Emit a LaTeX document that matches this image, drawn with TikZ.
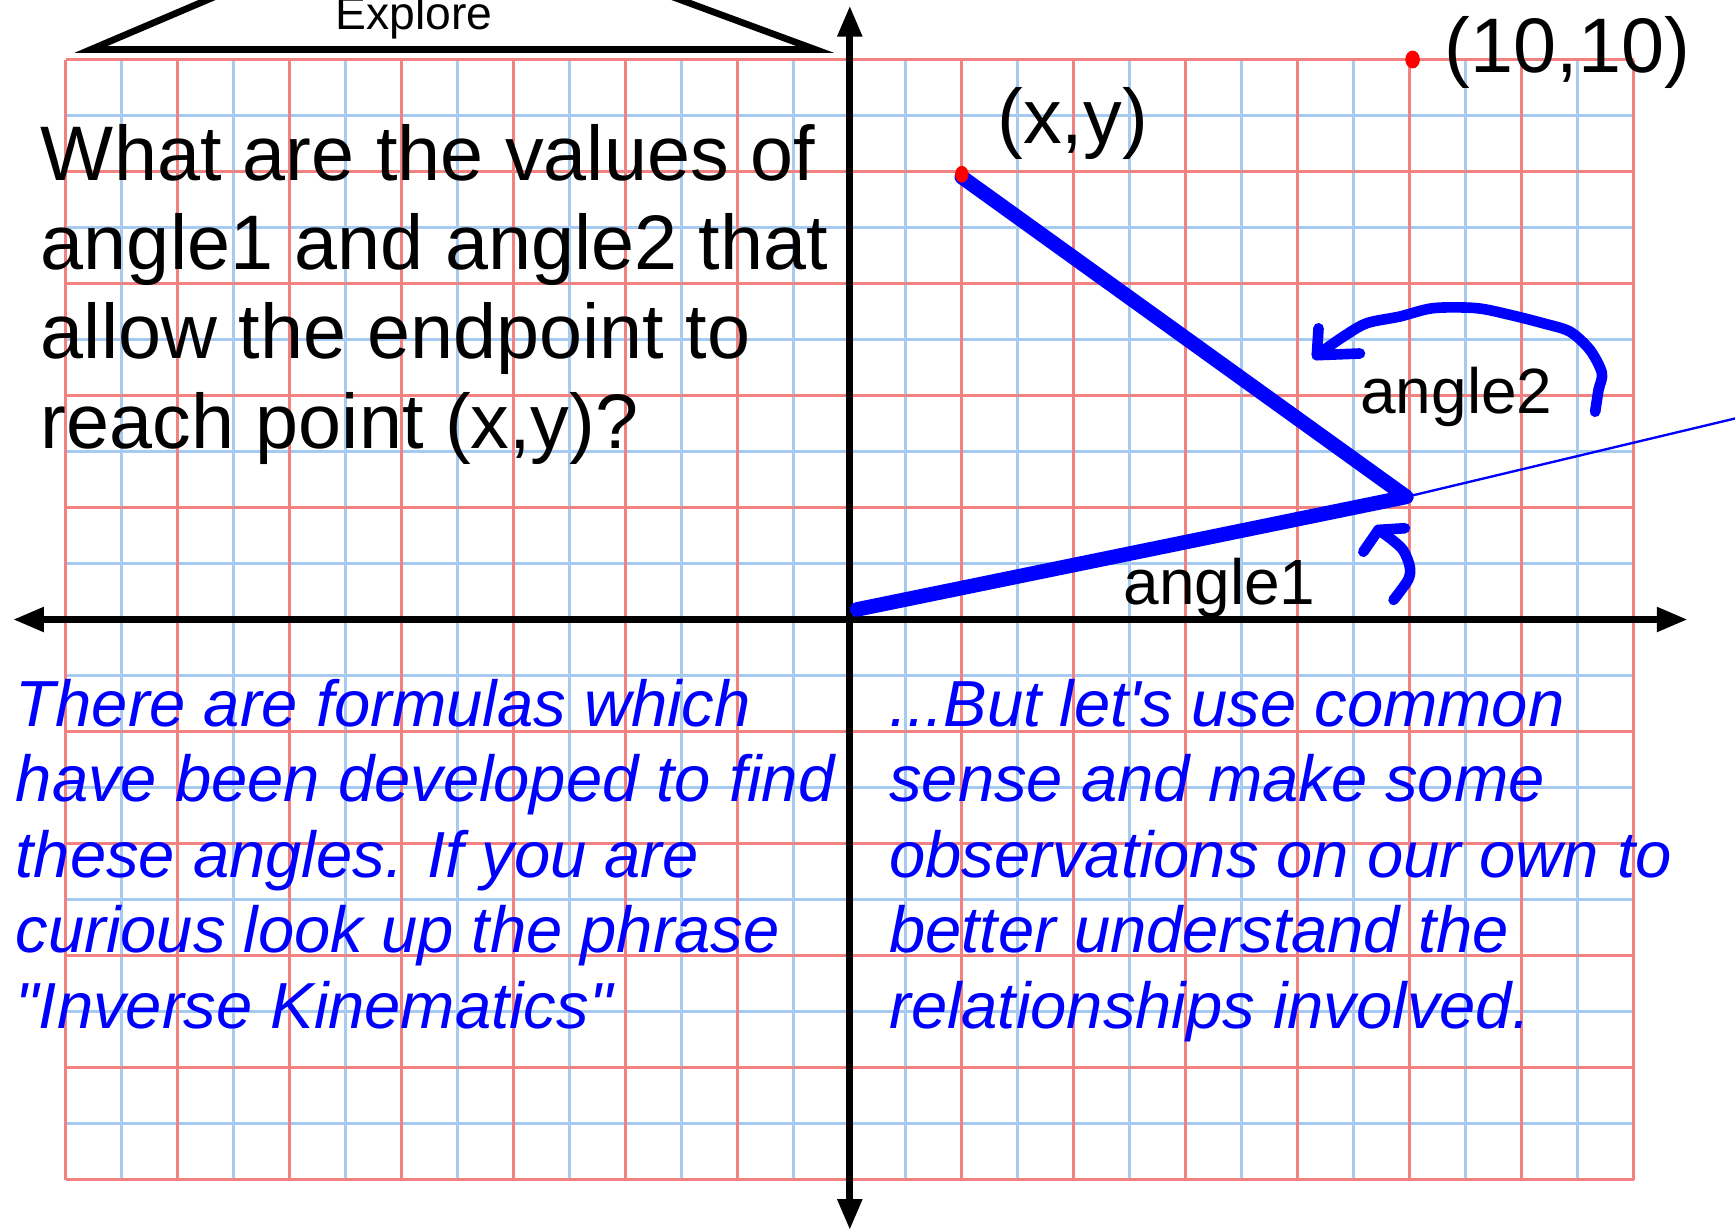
\documentclass[tikz,border=0pt]{standalone}
\usepackage{fontspec}
\setmainfont{Liberation Sans}[Ligatures=TeXOff]
\usetikzlibrary{arrows.meta}
\definecolor{gridred}{RGB}{240,130,130}
\definecolor{gridblue}{RGB}{166,202,240}
\definecolor{penblue}{RGB}{0,0,255}
\definecolor{dotred}{RGB}{255,0,0}

\begin{document}
\begin{tikzpicture}[line join=round,
  axis/.style={line width=3.4pt,{Triangle[length=0.55cm,width=0.42cm]}-{Triangle[length=0.55cm,width=0.42cm]}},
  curl/.style={penblue,line width=5.4pt,line cap=round},
  bigtext/.style={anchor=base west,inner sep=0pt,align=left,font=\fontsize{39.3}{45.3}\selectfont},
  bluetext/.style={anchor=base west,inner sep=0pt,align=left,text=penblue,font=\fontsize{33.1}{38.4}\selectfont\itshape},
  anglelabel/.style={anchor=base west,inner sep=0pt,font=\fontsize{32.5}{38}\selectfont}]
  \useasboundingbox (-15.175,-10.92) rectangle (15.807,11.0625);
  \clip (-15.175,-10.92) rectangle (15.807,11.0625);
  % squared paper
  \foreach \i in {-13,-11,...,13} \draw[gridblue,line width=1.4pt] (\i,-10) -- (\i,10);
  \foreach \j in {-9,-7,...,9} \draw[gridblue,line width=1.4pt] (-14,\j) -- (14,\j);
  \foreach \i in {-14,-12,...,14} \draw[gridred,line width=1.4pt] (\i,-10) -- (\i,10);
  \foreach \j in {-10,-8,...,10} \draw[gridred,line width=1.4pt] (-14,\j) -- (14,\j);
  \draw[axis] (-14.94,0) -- (14.96,0);
  \draw[axis] (0,-10.9) -- (0,10.96);
  % tab on top
  \draw[line width=3.4pt,line join=miter] (-10.45,11.5) -- (-13.55,10.18) -- (-0.62,10.18) -- (-4.2,11.5);
  \node[anchor=base,inner sep=0pt,font=\fontsize{23.5}{28}\selectfont] (explore) at (-7.78,10.53) {Explore};
  % multi-line nodes sit on the baseline of their last line
  \node[bigtext] (question) at (-14.45,3.06) {What are the values of\\angle1 and angle2 that\\allow the endpoint to\\reach point (x,y)?};
  \node[bluetext] (formulas) at (-14.9,-7.30) {There are formulas which\\have been developed to find\\these angles. If you are\\curious look up the phrase\\"Inverse Kinematics"};
  \node[bluetext] (commonsense) at (0.70,-7.30) {...But let's use common\\sense and make some\\observations on our own to\\better understand the\\relationships involved.};
  % the arm
  \coordinate (shoulder) at (0.13,0.18);
  \coordinate (elbow) at (9.94,2.19);
  \coordinate (hand) at (2,7.9);
  \coordinate (ray) at (15.81,3.59);
  \draw[penblue,line width=1.2pt] (elbow) -- (ray);
  \draw[penblue,line width=7.4pt,line cap=round] (shoulder) -- (elbow) -- (hand);
  % hand drawn arrows
  \draw[curl] plot[smooth] coordinates {(13.31,3.71) (13.37,4.10) (13.43,4.40) (13.22,4.81) (12.86,5.14) (12.38,5.29) (11.79,5.44) (11.19,5.56) (10.42,5.56) (9.82,5.41) (9.23,5.29) (8.81,5.05) (8.34,4.72)};
  \draw[curl] (8.37,5.20) -- (8.34,4.72) -- (9.11,4.75);
  \draw[curl] plot[smooth] coordinates {(9.71,0.35) (9.97,0.71) (10.0,0.94) (9.88,1.24) (9.65,1.45) (9.44,1.60)};
  \draw[curl] (9.17,1.21) -- (9.44,1.60) -- (9.91,1.63);
  \fill[dotred] (hand) ++(0,0.05) ellipse (0.12 and 0.15);
  \fill[dotred] (10.05,10) ellipse (0.13 and 0.16);
  \node[bigtext] (handlabel) at (2.63,8.50) {(x,y)};
  \node[bigtext] (cornerlabel) at (10.62,9.77) {(10,10)};
  \node[anglelabel] (angletwo) at (9.11,3.68) {angle2};
  \node[anglelabel] (angleone) at (4.88,0.26) {angle1};
\end{tikzpicture}
\end{document}
